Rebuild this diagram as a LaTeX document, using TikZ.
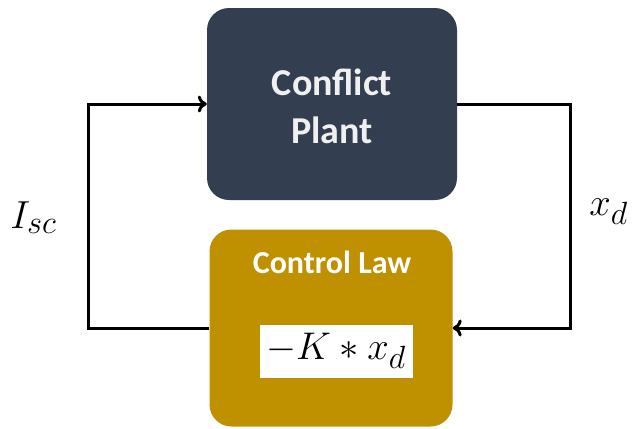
\documentclass[tikz,border=0pt]{standalone}
\usepackage{fontspec}
\setsansfont{Carlito}
\usetikzlibrary{positioning,arrows.meta}

\definecolor{plantblue}{HTML}{333F50}
\definecolor{lawgold}{HTML}{BF9000}

\tikzset{
  block/.style={rounded corners=22pt, inner sep=0pt},
  wire/.style={line width=3pt},
  bigmath/.style={font=\Huge, inner sep=0pt, scale=#1},
}

\begin{document}
\begin{tikzpicture}[x=1pt, y=-1pt, >={To[length=9pt,width=17pt]}]
\useasboundingbox (0,0) rectangle (633,429);

\node[block, fill=plantblue, minimum width=250pt, minimum height=192pt] (plant) at (332,104) {};
\node[font=\sffamily\bfseries\fontsize{38}{48}\selectfont, text=white!94!black, align=center] (plantname) at (332,106) {Conflict\\Plant};

\node[block, fill=lawgold, minimum width=243pt, minimum height=197pt] (law) at (331,328) {};
\node[font=\sffamily\bfseries\fontsize{32}{36}\selectfont, text=white, anchor=base] (lawname) at (332,273) {Control Law};
\node[fill=white, minimum width=153pt, minimum height=53pt, inner sep=0pt] (lawbox) at (336,351) {};
\node[bigmath=1.55] (lawexpr) at (lawbox.center) {$-K*x_d$};

\node[bigmath=1.57, anchor=base west] (isc) at (10,228) {$I_{sc}$};
\node[bigmath=1.55, anchor=base west] (xd) at (589,215) {$x_d$};

\draw[wire, ->] (law.west) -- ++(-121,0) |- (plant.west);
\draw[wire, ->] (plant.east) -- ++(113,0) |- (law.east);
\end{tikzpicture}
\end{document}
